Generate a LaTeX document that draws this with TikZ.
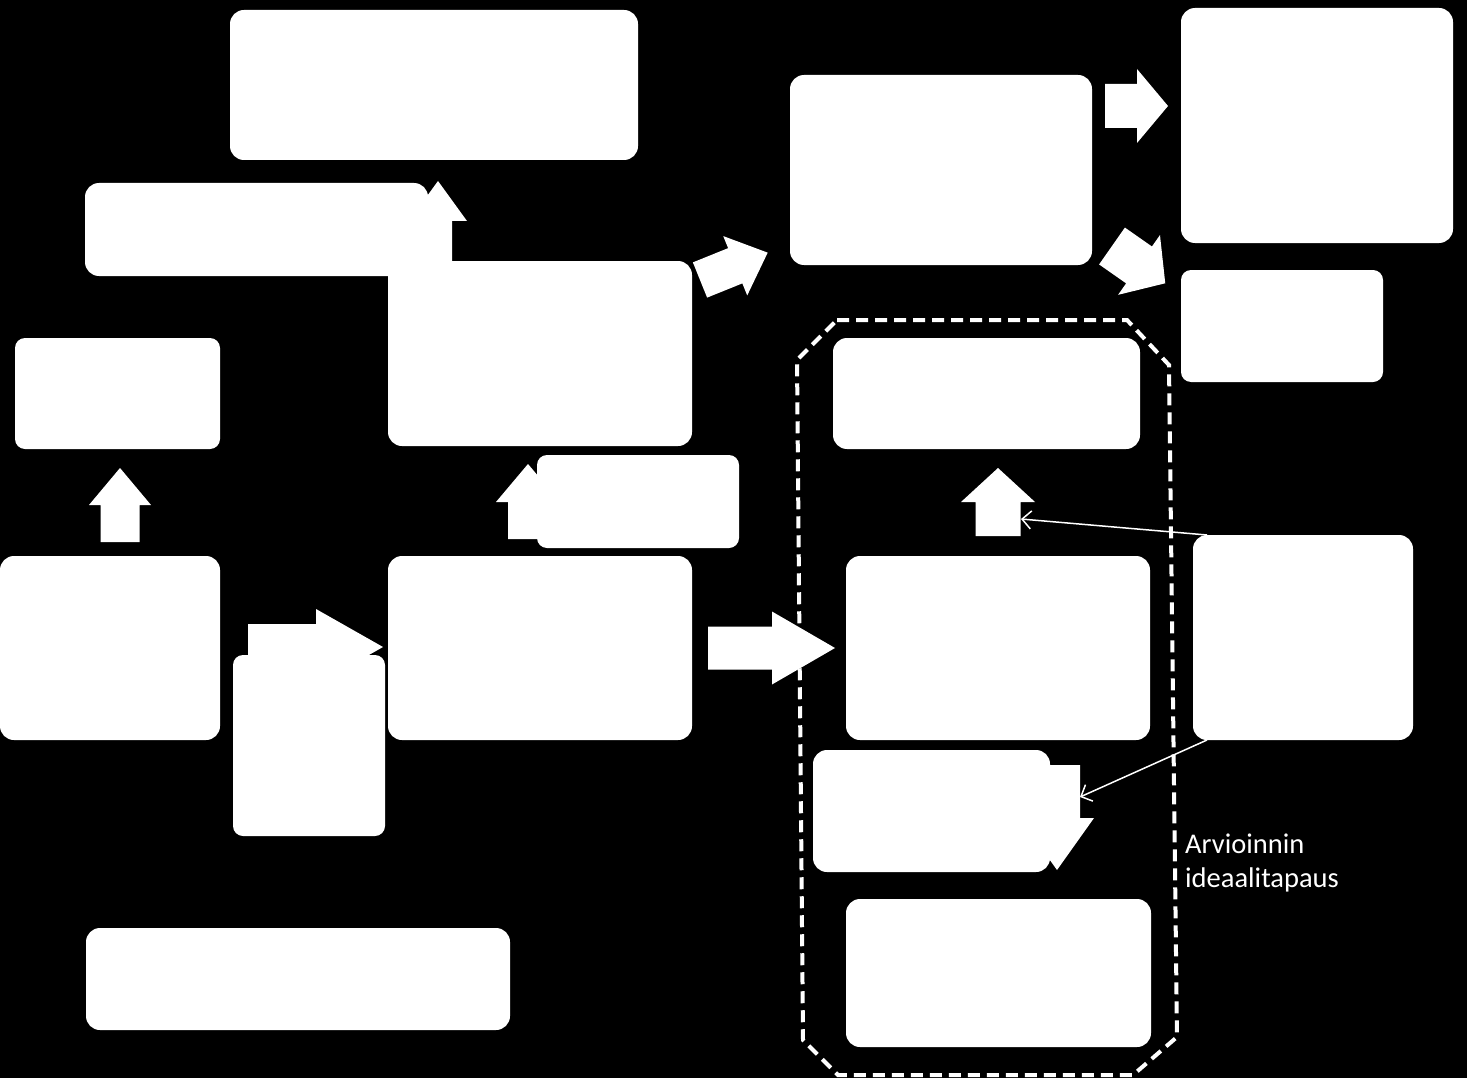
\documentclass[tikz,border=0pt]{standalone}
\usepackage{fontspec}
\setmainfont{Carlito}
\usetikzlibrary{arrows.meta}

\tikzset{
  box/.style={fill=white, rounded corners=14pt, inner sep=0pt, outer sep=0pt},
  smallbox/.style={box, rounded corners=10pt},
  thinarrow/.style={draw=white, line width=1.5pt, -{Straight Barb[length=9pt,width=18pt]}},
  idealframe/.style={draw=white, line width=4pt, dash pattern=on 12pt off 7pt},
}
% block arrow: tail x, tail y, angle, length, shaft half width, head half width, head length
\newcommand{\fatarrow}[7]{%
  \fill[white, shift={(#1,#2)}, rotate=#3]
    (0,-#5) -- ({#4-#7},-#5) -- ({#4-#7},-#6) -- (#4,0)
    -- ({#4-#7},#6) -- ({#4-#7},#5) -- (0,#5) -- cycle;
}

\begin{document}
\begin{tikzpicture}[x=1pt, y=-1pt]
  \fill[black] (0,0) rectangle (1467,1078);
  \useasboundingbox (0,0) rectangle (1467,1078);

  % block arrows (behind the boxes)
  \fatarrow{438}{262}{90}{81}{14}{29}{40}
  \fatarrow{120}{542}{90}{74}{19.5}{31}{37}
  \fatarrow{248}{647}{0}{135}{23}{38}{67}
  \fatarrow{528}{539}{90}{75}{20}{32}{38}
  \fatarrow{708}{648}{0}{127}{21.5}{36.5}{63}
  \fatarrow{700}{280}{22}{73}{19}{32}{35}
  \fatarrow{1105}{106}{0}{63}{22}{37}{31}
  \fatarrow{1112}{246}{-35}{65}{22.5}{36.5}{32}
  \fatarrow{998}{536}{90}{68}{22.5}{37}{34}
  \fatarrow{1057}{765}{-90}{105}{23}{37}{52}

  % left part
  \node[box, minimum width=408pt, minimum height=150pt] (top) at (434,85) {};
  \node[box, minimum width=343pt, minimum height=93pt] (wide) at (256.5,229.5) {};
  \node[box, minimum width=304pt, minimum height=185pt] (upper) at (540,353.5) {};
  \node[smallbox, minimum width=205pt, minimum height=111pt] (left) at (117.5,393.5) {};
  \node[box, minimum width=220pt, minimum height=184pt] (start) at (110,648) {};
  \node[smallbox, minimum width=152pt, minimum height=181pt] (tall) at (309,745.5) {};
  \node[box, minimum width=304pt, minimum height=184pt] (middle) at (540,648) {};
  \node[smallbox, minimum width=202pt, minimum height=93pt] (side) at (638,501.5) {};
  \node[box, minimum width=424pt, minimum height=102pt] (bottom) at (298,979) {};

  % right part
  \node[box, minimum width=302pt, minimum height=190pt] (result) at (941,170) {};
  \node[box, minimum width=272pt, minimum height=235pt] (outcome) at (1317,125.5) {};
  \node[smallbox, minimum width=202pt, minimum height=112pt] (effect) at (1282,326) {};
  \node[box, minimum width=307pt, minimum height=111pt] (evalA) at (986.5,393.5) {};
  \node[box, minimum width=220pt, minimum height=205pt] (info) at (1303,637.5) {};
  \node[box, minimum width=304pt, minimum height=184pt] (evalB) at (998,648) {};
  \node[box, minimum width=237pt, minimum height=122pt] (evalC) at (931.5,811) {};
  \node[box, minimum width=305pt, minimum height=148pt] (evalD) at (998.5,973) {};

  % ideal case frame
  \draw[idealframe] (837,320) -- (1127,320) -- (1169,365) -- (1177,1037)
    -- (1133,1075) -- (838,1075) -- (803,1040) -- (797,360) -- cycle;
  \node[anchor=north west, align=left, text=white, inner sep=0pt,
        font=\fontsize{28.5}{34}\selectfont] (ideal) at (1185,834)
        {Arvioinnin\\ideaalitapaus};

  % thin arrows
  \coordinate (upin) at (1021,519);
  \coordinate (downin) at (1080,797);
  \draw[thinarrow] ([xshift=14pt]info.north west) -- (upin);
  \draw[thinarrow] ([xshift=14pt]info.south west) -- (downin);
\end{tikzpicture}
\end{document}
